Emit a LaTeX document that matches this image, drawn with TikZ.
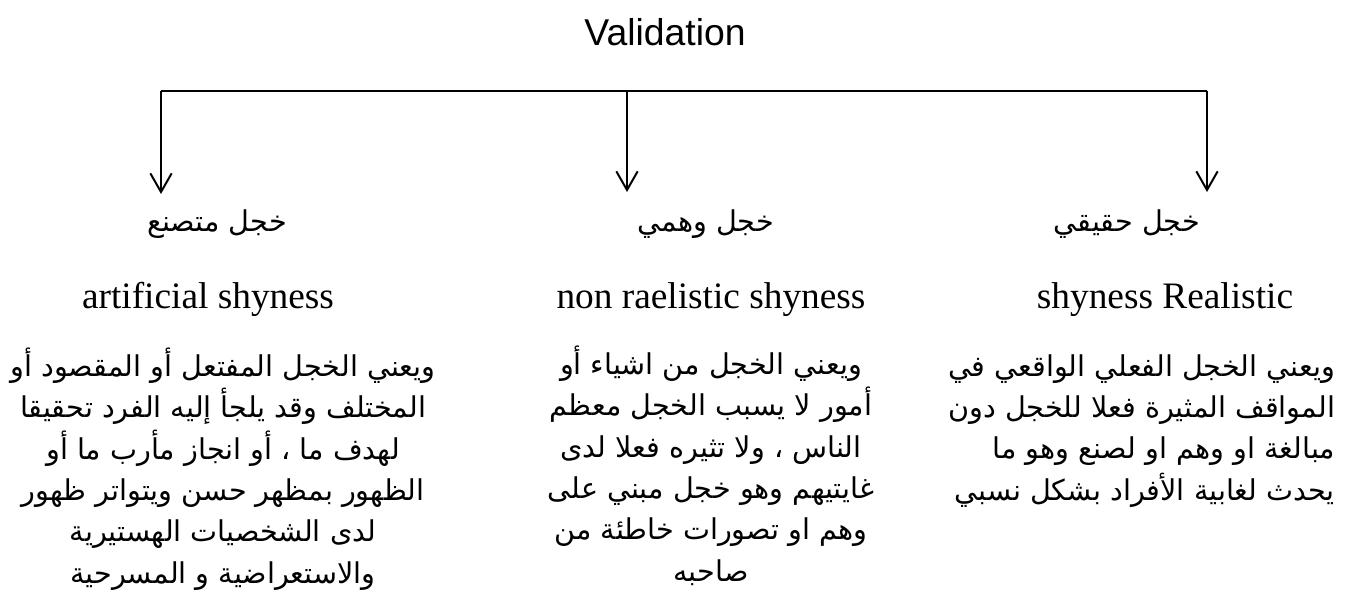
\documentclass[tikz,border=0pt]{standalone}
\usepackage{fontspec}
\setmainfont{Liberation Serif}
\newfontfamily\headfont{Liberation Sans}
\newfontfamily\arabicfont[Script=Arabic]{DejaVu Sans}
\TeXXeTstate=1
\usetikzlibrary{arrows.meta}
\newcommand{\ar}[1]{\beginR #1\endR}

\begin{document}
\begin{tikzpicture}[x=0.75pt,y=-0.75pt,line width=1.5pt]
	\tikzstyle{every node}+=[inner sep=0pt]
	\tikzstyle{arabic}=[font={\arabicfont\fontsize{21.5}{31}\selectfont}]
	\tikzstyle{body}=[arabic,anchor=base]
	\tikzstyle{english}=[font={\fontsize{28}{32}\selectfont},anchor=base]
	\tikzstyle{branch}=[-{Straight Barb[length=14pt,width=16pt]}]
	\useasboundingbox (0,0) rectangle (1354,599);
	\draw (665,46) node [anchor=base,font={\headfont\fontsize{28}{32}\selectfont}] (top) {Validation};
	\coordinate (bar-l) at (161,91);
	\coordinate (bar-m) at (627,91);
	\coordinate (bar-r) at (1207,91);
	\coordinate (tip-l) at (161,194);
	\coordinate (tip-m) at (627,192);
	\coordinate (tip-r) at (1207,192);
	\draw [black] (bar-l) -- (bar-r);
	\draw [black,branch] (bar-l) -- (tip-l);
	\draw [black,branch] (bar-m) -- (tip-m);
	\draw [black,branch] (bar-r) -- (tip-r);
	\draw (217,232) node [arabic,anchor=base] (ar-art) {\ar{خجل متصنع}};
	\draw (706,232) node [arabic,anchor=base] (ar-non) {\ar{خجل وهمي}};
	\draw (1127,232) node [arabic,anchor=base] (ar-real) {\ar{خجل حقيقي}};
	\draw (208,308) node [english] (en-art) {artificial shyness};
	\draw (711,308) node [english] (en-non) {non raelistic shyness};
	\draw (1165,308) node [english] (en-real) {shyness Realistic};
	% the base anchor of a block is its last line
	\draw (223,583) node [body,align=center] (def-art) {\ar{ويعني الخجل المفتعل أو  المقصود أو}\\
		\ar{المختلف وقد يلجأ إليه الفرد تحقيقا}\\
		\ar{لهدف ما ، أو انجاز مأرب ما أو}\\
		\ar{الظهور بمظهر حسن ويتواتر ظهور}\\
		\ar{لدى الشخصيات الهستيرية}\\
		\ar{والاستعراضية و المسرحية}};
	\draw (711,581) node [body,align=center] (def-non) {\ar{ويعني الخجل من اشياء أو}\\
		\ar{أمور  لا يسبب الخجل معظم}\\
		\ar{الناس ، ولا تثيره فعلا لدى}\\
		\ar{غايتيهم وهو خجل مبني على}\\
		\ar{وهم او تصورات خاطئة من}\\
		\ar{صاحبه}};
	\draw (1336,500) node [body,align=right,anchor=base east] (def-real) {\ar{ويعني الخجل الفعلي الواقعي  في}\\
		\ar{المواقف المثيرة فعلا للخجل دون}\\
		\ar{مبالغة او وهم او لصنع وهو ما}\\
		\ar{يحدث لغابية الأفراد بشكل نسبي}};

\end{tikzpicture}
\end{document}
